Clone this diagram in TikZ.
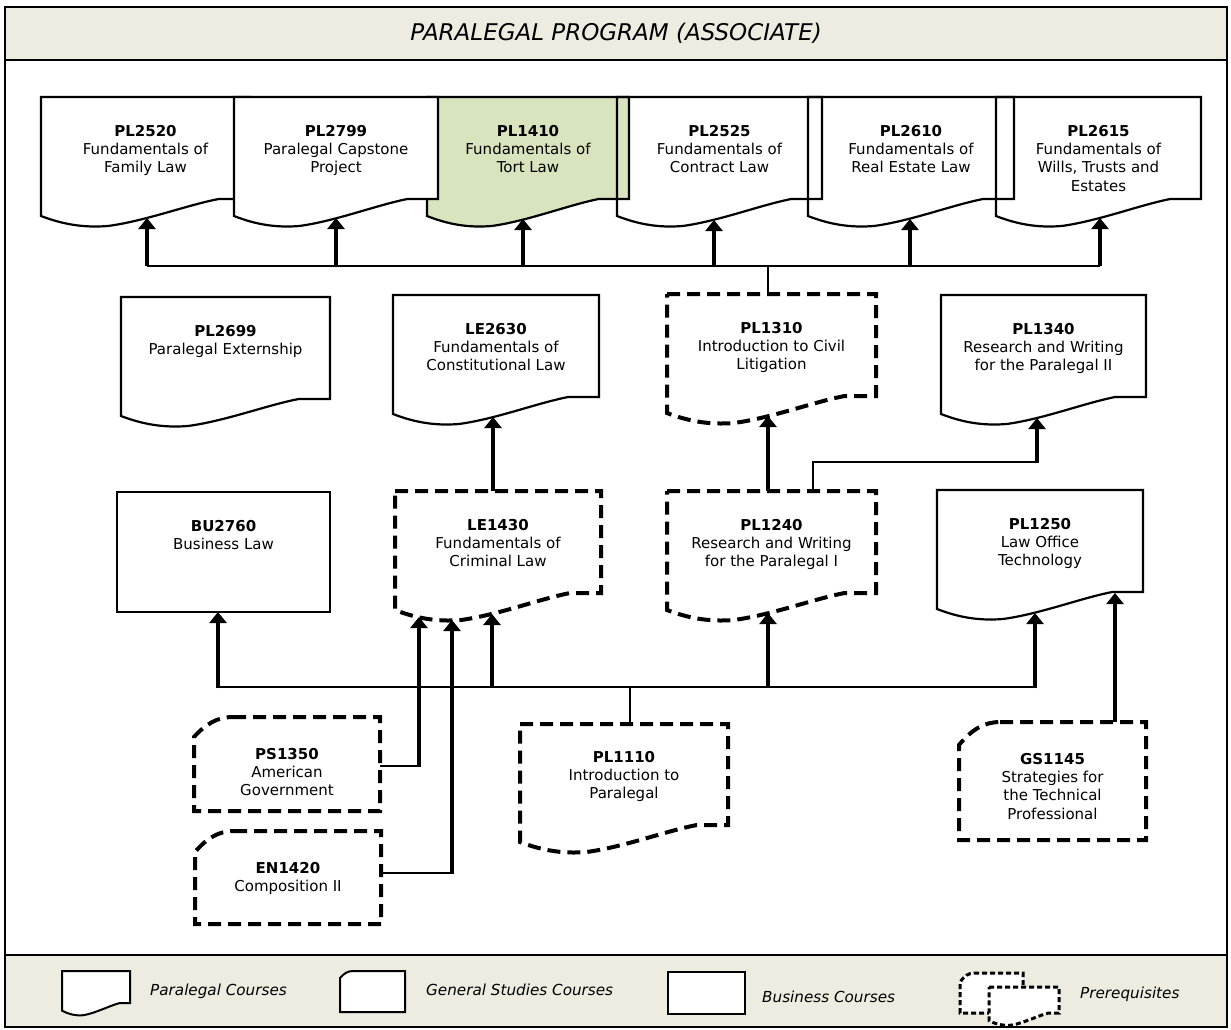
\documentclass[tikz,border=0pt]{standalone}
\usepackage{fontspec}
\setmainfont{DejaVu Sans}
\usetikzlibrary{arrows.meta}
\definecolor{bandcol}{HTML}{EEECE1}
\definecolor{tortgreen}{HTML}{D7E4BD}

% paper (paralegal) shape: style, L, T, R, Yr, wave amplitude factor
\newcommand\papershape[6]{%
  \path[#1] (#2,#3) -- (#4,#3) -- (#4,#5) -- ({#2+0.85*(#4-#2)},#5)
   .. controls ({#2+0.7*(#4-#2)},{#5+6*#6}) and ({#2+0.5*(#4-#2)},{#5+22*#6}) .. ({#2+0.32*(#4-#2)},{#5+27*#6})
   .. controls ({#2+0.2*(#4-#2)},{#5+29*#6}) and ({#2+0.1*(#4-#2)},{#5+25*#6}) .. (#2,{#5+17*#6}) -- cycle;}
% general studies shape: style, L, T, R, B, cut x, cut y
\newcommand\genshape[7]{%
  \path[#1] ({#2+#6},#3) -- (#4,#3) -- (#4,#5) -- (#2,#5) -- (#2,{#3+#7})
   .. controls ({#2+0.3*#6},{#3+0.35*#7}) and ({#2+0.6*#6},#3) .. ({#2+#6},#3) -- cycle;}

\begin{document}
\begin{tikzpicture}[x=1pt,y=-1pt,
  outline/.style={draw=black, line width=2.2pt, line join=miter},
  prereq/.style={draw=black, line width=4pt, dash pattern=on 13pt off 7pt},
  smallprereq/.style={draw=black, line width=3pt, dash pattern=on 5pt off 3pt},
  busline/.style={draw=black, line width=2.6pt},
  arrowline/.style={draw=black, line width=4.5pt, -{Triangle[width=17pt,length=11pt]}},
  coursetext/.style={anchor=north, inner sep=0pt, align=center, font=\fontsize{15}{18.3}\selectfont},
  legendtext/.style={anchor=base west, inner sep=0pt, font=\fontsize{15.2}{18}\selectfont\itshape},
]
\useasboundingbox (0,0) rectangle (1231,1030);

% frame and bands
\fill[white] (5,7) rectangle (1227,1027);
\fill[bandcol] (5,7) rectangle (1227,60);
\fill[bandcol] (5,955) rectangle (1227,1027);
\draw[line width=2.5pt] (5,60) -- (1227,60);
\draw[line width=2.5pt] (5,955) -- (1227,955);
\draw[line width=2.5pt] (5,7) rectangle (1227,1027);
\node[anchor=base, inner sep=0pt, font=\fontsize{23}{27}\selectfont\itshape] (title) at (616,41) {PARALEGAL PROGRAM (ASSOCIATE)};

% ---- top row ----
\papershape{fill=white}{41}{97}{250}{199}{1}
\papershape{fill=white}{617}{97}{822}{199}{1}
\papershape{fill=white}{808}{97}{1014}{199}{1}
\papershape{fill=white}{996}{97}{1201}{199}{1}
\papershape{fill=tortgreen}{427}{97}{629}{199}{1}
\papershape{outline}{41}{97}{250}{199}{1}
\papershape{outline}{427}{97}{629}{199}{1}
\papershape{outline}{617}{97}{822}{199}{1}
\papershape{outline}{808}{97}{1014}{199}{1}
\papershape{outline}{996}{97}{1201}{199}{1}
\papershape{outline, fill=white}{234}{97}{438}{199}{1}

\node[coursetext] (PL2520) at (145.5,125) {\textbf{PL2520}\\Fundamentals of\\Family Law};
\node[coursetext] (PL2799) at (336,125) {\textbf{PL2799}\\Paralegal Capstone\\Project};
\node[coursetext] (PL1410) at (528,125) {\textbf{PL1410}\\Fundamentals of\\Tort Law};
\node[coursetext] (PL2525) at (719.5,125) {\textbf{PL2525}\\Fundamentals of\\Contract Law};
\node[coursetext] (PL2610) at (911,125) {\textbf{PL2610}\\Fundamentals of\\Real Estate Law};
\node[coursetext] (PL2615) at (1098.5,125) {\textbf{PL2615}\\Fundamentals of\\Wills, Trusts and\\Estates};

% ---- middle row ----
\papershape{outline, fill=white}{121}{297}{330}{399}{1}
\papershape{outline, fill=white}{393}{295}{599}{397}{1}
\papershape{prereq, fill=white}{667}{294}{876}{396}{1}
\papershape{outline, fill=white}{941}{295}{1146}{397}{1}
\node[coursetext] (PL2699) at (225.5,325) {\textbf{PL2699}\\Paralegal Externship};
\node[coursetext] (LE2630) at (496,323) {\textbf{LE2630}\\Fundamentals of\\Constitutional Law};
\node[coursetext] (PL1310) at (771.5,322) {\textbf{PL1310}\\Introduction to Civil\\Litigation};
\node[coursetext] (PL1340) at (1043.5,323) {\textbf{PL1340}\\Research and Writing\\for the Paralegal II};

% ---- third row ----
\draw[outline, fill=white] (117,492) rectangle (330,612);
\papershape{prereq, fill=white}{395}{491}{601}{593}{1}
\papershape{prereq, fill=white}{667}{491}{876}{593}{1}
\papershape{outline, fill=white}{937}{490}{1143}{592}{1}
\node[coursetext] (BU2760) at (223.5,520) {\textbf{BU2760}\\Business Law};
\node[coursetext] (LE1430) at (498,519) {\textbf{LE1430}\\Fundamentals of\\Criminal Law};
\node[coursetext] (PL1240) at (771.5,519) {\textbf{PL1240}\\Research and Writing\\for the Paralegal I};
\node[coursetext] (PL1250) at (1040,518) {\textbf{PL1250}\\Law Office\\Technology};

% ---- bottom row ----
\genshape{prereq, fill=white}{194}{717}{380}{811}{39}{20}
\genshape{prereq, fill=white}{195}{831}{381}{924}{39}{21}
\papershape{prereq, fill=white}{520}{724}{728}{825}{1}
\genshape{prereq, fill=white}{959}{722}{1146}{840}{41}{23}
\node[coursetext] (PS1350) at (287,748) {\textbf{PS1350}\\American\\Government};
\node[coursetext] (EN1420) at (288,862) {\textbf{EN1420}\\Composition II};
\node[coursetext] (PL1110) at (624,751) {\textbf{PL1110}\\Introduction to\\Paralegal};
\node[coursetext] (GS1145) at (1052.5,753) {\textbf{GS1145}\\Strategies for\\the Technical\\Professional};

% ---- connector points ----
\coordinate (tA1) at (147,218);   \coordinate (bA1) at (147,266);
\coordinate (tA2) at (336,218);   \coordinate (bA2) at (336,266);
\coordinate (tA3) at (523,219);   \coordinate (bA3) at (523,266);
\coordinate (tA4) at (714,220);   \coordinate (bA4) at (714,266);
\coordinate (tA5) at (910,219);   \coordinate (bA5) at (910,266);
\coordinate (tA6) at (1100,218);  \coordinate (bA6) at (1100,266);
\coordinate (busTop1310) at (768,266); \coordinate (top1310) at (768,294);

\coordinate (le1430top) at (493,491); \coordinate (le2630tip) at (493,417);
\coordinate (pl1240topA) at (768,491); \coordinate (pl1310tip) at (768,416);
\coordinate (pl1240topB) at (813,491); \coordinate (kneeB) at (813,462);
\coordinate (kneeC) at (1037,462); \coordinate (pl1340tip) at (1037,418);

\coordinate (bB1) at (218,687); \coordinate (bu2760tip) at (218,612);
\coordinate (bB2) at (492,687); \coordinate (le1430tipC) at (492,614);
\coordinate (bB3) at (768,687); \coordinate (pl1240tip) at (768,613);
\coordinate (bB4) at (1035,687); \coordinate (pl1250tipA) at (1035,613);
\coordinate (busLow1110) at (630,687); \coordinate (pl1110top) at (630,724);

\coordinate (ps1350r) at (380,766); \coordinate (ps1350k) at (419,766); \coordinate (le1430tipA) at (419,617);
\coordinate (en1420r) at (381,873); \coordinate (en1420k) at (452,873); \coordinate (le1430tipB) at (452,620);
\coordinate (gs1145top) at (1115,722); \coordinate (pl1250tipB) at (1115,593);

% ---- connectors ----
\draw[busline] (bA1) -- (bA6);
\draw[busline] (busTop1310) -- (top1310);
\foreach \i in {1,...,6}{\draw[arrowline] (bA\i) -- (tA\i);}

\draw[arrowline] (le1430top) -- (le2630tip);
\draw[arrowline] (pl1240topA) -- (pl1310tip);
\draw[busline] (pl1240topB) -- (kneeB) -- (kneeC);
\draw[arrowline] ([yshift=-1.3pt]kneeC) -- (pl1340tip);

\draw[busline] (bB1) -- (bB4);
\draw[busline] (busLow1110) -- (pl1110top);
\draw[arrowline] ([yshift=-1.3pt]bB1) -- (bu2760tip);
\draw[arrowline] (bB2) -- (le1430tipC);
\draw[arrowline] (bB3) -- (pl1240tip);
\draw[arrowline] ([yshift=-1.3pt]bB4) -- (pl1250tipA);

\draw[busline] (ps1350r) -- (ps1350k);
\draw[arrowline] ([yshift=-1.3pt]ps1350k) -- (le1430tipA);
\draw[busline] (en1420r) -- (en1420k);
\draw[arrowline] ([yshift=-1.3pt]en1420k) -- (le1430tipB);
\draw[arrowline] (gs1145top) -- (pl1250tipB);

% ---- legend ----
\papershape{outline, line width=2pt, fill=white}{62}{971}{130}{1003}{0.45}
\genshape{outline, line width=2pt, fill=white}{340}{971}{405}{1012}{13}{7}
\draw[outline, line width=2pt, fill=white] (668,972) rectangle (745,1014);
\genshape{smallprereq, fill=white}{960}{973}{1023}{1013}{14}{9}
\papershape{smallprereq, fill=white}{989}{987}{1059}{1013}{0.45}
\node[legendtext] (lgPara) at (150,995) {Paralegal Courses};
\node[legendtext] (lgGen) at (426,995) {General Studies Courses};
\node[legendtext] (lgBus) at (762,1002) {Business Courses};
\node[legendtext] (lgPre) at (1080,998) {Prerequisites};
\end{tikzpicture}
\end{document}
